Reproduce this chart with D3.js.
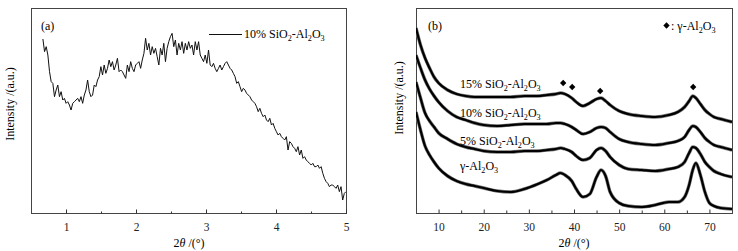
<!DOCTYPE html>
<html>
<head>
<meta charset="utf-8">
<script src="https://cdn.jsdelivr.net/npm/d3@7"></script>
<style>
  body { margin: 0; background: #fff; }
  svg { display: block; font-family: "Liberation Serif", "Times New Roman", serif; }
  .axis path { display: none; }
  .axis line { stroke: #333; }
  .axis text { font-family: "Liberation Serif", serif; font-size: 11.5px; fill: #222; }
</style>
</head>
<body>
<svg id="chart" width="738" height="251"></svg>
<script>
// ---- panel (a): small angle scan, 10% SiO2-Al2O3
var aStart = 0.67, aStep = 0.02366;
var aIntensity = [522, 484, 499, 474, 424, 394, 389, 349, 369, 384, 349, 364, 339, 344, 329, 334, 324, 309, 329, 334,
  339, 344, 334, 349, 329, 354, 369, 399, 364, 349, 354, 384, 379, 399, 409, 439, 414, 444, 419, 434,
  459, 439, 454, 429, 444, 464, 424, 429, 424, 414, 404, 444, 424, 454, 434, 424, 444, 449, 454, 434,
  459, 479, 524, 489, 509, 474, 499, 479, 494, 469, 444, 494, 474, 509, 454, 494, 514, 529, 539, 499,
  519, 474, 509, 489, 514, 479, 509, 489, 514, 494, 504, 474, 514, 489, 514, 474, 464, 454, 474, 449,
  489, 444, 439, 449, 434, 424, 434, 444, 429, 439, 449, 454, 444, 434, 429, 419, 409, 389, 394, 379,
  364, 374, 369, 359, 354, 349, 339, 334, 329, 319, 304, 314, 299, 289, 294, 279, 274, 284, 264, 269,
  254, 244, 234, 239, 229, 224, 219, 229, 189, 214, 209, 199, 194, 184, 199, 174, 189, 164, 169, 159,
  154, 149, 144, 149, 139, 139, 144, 134, 139, 119, 104, 94, 89, 79, 84, 84, 79, 74, 84, 64,
  79, 39, 59, 64];
var aTicks = [1, 2, 3, 4, 5];
var aMinor = [1.5, 2.5, 3.5, 4.5];

// ---- panel (b): wide angle scans
var bAngle = [5, 6, 7, 8, 9, 10, 12, 14, 16, 18, 20, 23, 26, 29, 32, 34, 36, 37, 38, 39.5, 40.5, 42, 43.5, 45, 46, 47, 48,
  50, 52, 55, 58, 61, 63, 64.5, 65.5, 66.3, 67, 68, 69, 70, 71, 72.5, 75];
var bSi15 = [185, 168, 155, 145, 136, 130, 123, 119, 117, 116, 116, 116, 116, 117, 117, 118, 119, 120, 119, 115, 111, 107, 110, 114, 115, 112, 108,
  102, 99, 97, 96, 98, 101, 106, 112, 117, 115, 109, 103, 99, 96, 94, 91];
var bSi10 = [158, 145, 133, 124, 117, 111, 102, 96, 93, 90, 88, 87, 88, 89, 89, 89, 90, 90, 89, 86, 83, 79, 81, 85, 86, 85, 81,
  74, 71, 69, 68, 70, 72, 76, 83, 87, 86, 81, 75, 71, 68, 66, 63];
var bSi5 = [131, 115, 100, 92, 86, 80, 74, 69, 66, 64, 62, 61, 61, 62, 62, 63, 64, 65, 64, 61, 57, 53, 55, 63, 65, 62, 56,
  48, 44, 43, 42, 44, 46, 51, 60, 66, 65, 59, 51, 46, 42, 39, 36];
var bGamma = [101, 83, 67, 58, 51, 45, 37, 32, 29, 27, 25, 22, 21, 24, 29, 33, 38, 40, 38, 32, 24, 16, 19, 36, 43, 37, 21,
  10, 7, 6, 8, 11, 11, 16, 28, 43, 50, 38, 21, 10, 7, 5, 4];
var bSeries = [bSi15, bSi10, bSi5, bGamma];
var bLabels = ["15% SiO2-Al2O3", "10% SiO2-Al2O3", "5% SiO2-Al2O3", "γ-Al2O3"];
var bLabelLevel = [125, 96, 68, 43];
var peakAngle = [37.6, 39.6, 45.8, 66.4];
var peakLevel = [130, 126, 122, 126];
var bTicks = [10, 20, 30, 40, 50, 60, 70];
var bMinor = [15, 25, 35, 45, 55, 65];

var svg = d3.select("#chart");
var yTop = 8, yBottom = 213;

// writes "SiO2" style text, digits right after a letter go down as subscripts
function chem(sel, str, size) {
  var parts = str.match(/[A-Za-zγ]\d+|[^A-Za-zγ]+|[A-Za-zγ]/g);
  var lifted = 0;
  parts.forEach(function(p) {
    var m = p.match(/^([A-Za-zγ])(\d+)$/);
    var head = m ? m[1] : p;
    sel.append("tspan").attr("dy", lifted ? -3 : null).text(head);
    lifted = 0;
    if (m) {
      sel.append("tspan").attr("font-size", size * 0.68).attr("dy", 3).text(m[2]);
      lifted = 1;
    }
  });
}

function frame(x0, x1, rightColor) {
  svg.append("rect").attr("x", x0 + 0.5).attr("y", yTop + 0.5)
    .attr("width", x1 - x0).attr("height", yBottom - yTop)
    .attr("fill", "none").attr("stroke", "#444").attr("stroke-width", 1);
}

function xTitle(cx) {
  var t = svg.append("text").attr("x", cx).attr("y", 247).attr("text-anchor", "middle")
    .attr("font-size", 12);
  t.append("tspan").text("2");
  t.append("tspan").attr("font-style", "italic").text("θ");
  t.append("tspan").text(" /(°)");
}

function yTitle(x, cy) {
  svg.append("text").attr("transform", "translate(" + x + "," + cy + ") rotate(-90)")
    .attr("text-anchor", "middle").attr("font-size", 12).text("Intensity /(a.u.)");
}

// ================= panel (a)
var xa = d3.scaleLinear().domain([0.5, 5]).range([31, 346]);
var ya = d3.scaleLinear().domain([0, 615]).range([yBottom, yTop]);

frame(31, 346);

svg.append("g").attr("class", "axis").attr("transform", "translate(0," + (yBottom + 0.5) + ")")
  .call(d3.axisBottom(xa).tickValues(aTicks).tickSize(-4).tickPadding(9).tickFormat(d3.format("d")));
svg.append("g").attr("class", "axis").attr("transform", "translate(0," + (yBottom + 0.5) + ")")
  .call(d3.axisBottom(xa).tickValues(aMinor).tickSize(-2).tickFormat(""));

svg.append("clipPath").attr("id", "clipA").append("rect")
  .attr("x", 31).attr("y", yTop).attr("width", 315).attr("height", yBottom - yTop);

var lineA = d3.line()
  .x(function(d, i) { return xa(aStart + i * aStep); })
  .y(function(d) { return ya(d); });

svg.append("path").datum(aIntensity)
  .attr("clip-path", "url(#clipA)")
  .attr("fill", "none").attr("stroke", "#111").attr("stroke-width", 1)
  .attr("stroke-linejoin", "round")
  .attr("d", lineA);

svg.append("text").attr("x", 41).attr("y", 30).attr("font-size", 12).text("(a)");
svg.append("line").attr("x1", 209).attr("x2", 242).attr("y1", 34.5).attr("y2", 34.5)
  .attr("stroke", "#111").attr("stroke-width", 1);
chem(svg.append("text").attr("x", 244).attr("y", 38).attr("font-size", 12), "10% SiO2-Al2O3", 12);

xTitle(189);
yTitle(14, 104);

// ================= panel (b)
var xb = d3.scaleLinear().domain([5, 75]).range([416, 732]);
var yb = d3.scaleLinear().domain([0, 205]).range([yBottom, yTop]);

frame(416, 732);

svg.append("g").attr("class", "axis").attr("transform", "translate(0," + (yBottom + 0.5) + ")")
  .call(d3.axisBottom(xb).tickValues(bTicks).tickSize(-4).tickPadding(9).tickFormat(d3.format("d")));
svg.append("g").attr("class", "axis").attr("transform", "translate(0," + (yBottom + 0.5) + ")")
  .call(d3.axisBottom(xb).tickValues(bMinor).tickSize(-3).tickFormat(""));

svg.append("clipPath").attr("id", "clipB").append("rect")
  .attr("x", 416).attr("y", yTop).attr("width", 316).attr("height", yBottom - yTop);

var lineB = d3.line()
  .curve(d3.curveMonotoneX)
  .x(function(d, i) { return xb(bAngle[i]); })
  .y(function(d) { return yb(d); });

var scans = svg.append("g").attr("clip-path", "url(#clipB)");
bSeries.forEach(function(s) {
  scans.append("path").datum(s)
    .attr("fill", "none").attr("stroke", "#777").attr("stroke-width", 3.4)
    .attr("stroke-linejoin", "round").attr("d", lineB);
  scans.append("path").datum(s)
    .attr("fill", "none").attr("stroke", "#000").attr("stroke-width", 2.2)
    .attr("stroke-linejoin", "round").attr("d", lineB);
});

bLabels.forEach(function(l, i) {
  chem(svg.append("text").attr("x", 460).attr("y", yb(bLabelLevel[i])).attr("font-size", 12), l, 12);
});

var diamond = d3.symbol().type(d3.symbolSquare).size(20);
svg.append("g").selectAll("path").data(peakAngle).enter().append("path")
  .attr("d", diamond)
  .attr("fill", "#000")
  .attr("transform", function(d, i) { return "translate(" + xb(d) + "," + yb(peakLevel[i]) + ") rotate(45)"; });

svg.append("path").attr("d", diamond).attr("fill", "#000")
  .attr("transform", "translate(666.5,25.5) rotate(45)");
chem(svg.append("text").attr("x", 671).attr("y", 30).attr("font-size", 12), ": γ-Al2O3", 12);

svg.append("text").attr("x", 428).attr("y", 30).attr("font-size", 12).text("(b)");

xTitle(574);
yTitle(403, 98);
</script>
</body>
</html>
